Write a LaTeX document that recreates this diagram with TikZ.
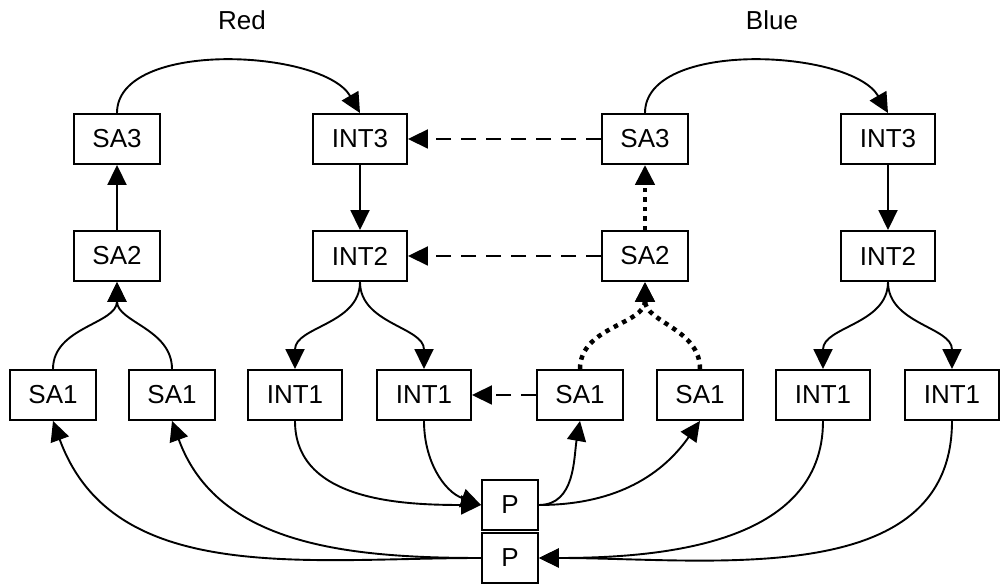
\documentclass[tikz,border=0pt]{standalone}
\usepackage{fontspec}
\setmainfont{Liberation Sans}
\usetikzlibrary{arrows.meta}
\begin{document}
\begin{tikzpicture}[x=1pt,y=1pt,
  every node/.style={font=\fontsize{26}{30}\selectfont},
  box/.style={draw, line width=1.9pt, minimum height=50pt, inner sep=0pt, minimum width=86pt},
  ibox/.style={box, minimum width=94pt},
  pbox/.style={box, minimum width=56pt},
  conn/.style={line width=1.9pt, -{Triangle[length=20pt,width=19pt]}},
  dashconn/.style={conn, dash pattern=on 15pt off 10pt},
  dotconn/.style={conn, line width=4.5pt, dash pattern=on 4.5pt off 5pt}
]
\useasboundingbox (0,0) rectangle (1002,585);

% titles
\node (tred) at (242,565) {Red};
\node (tblue) at (772,565) {Blue};

% red side
\node[box]  (SA3r)  at (117,446) {SA3};
\node[box]  (SA2r)  at (117,329) {SA2};
\node[box]  (SA1ra) at (53,190)  {SA1};
\node[box]  (SA1rb) at (172,190) {SA1};
\node[ibox] (INT3r) at (360,446) {INT3};
\node[ibox] (INT2r) at (360,329) {INT2};
\node[ibox] (INT1ra) at (295,190) {INT1};
\node[ibox] (INT1rb) at (424,190) {INT1};

% blue side
\node[box]  (SA3b)  at (645,446) {SA3};
\node[box]  (SA2b)  at (645,329) {SA2};
\node[box]  (SA1ba) at (580,190) {SA1};
\node[box]  (SA1bb) at (700,190) {SA1};
\node[ibox] (INT3b) at (888,446) {INT3};
\node[ibox] (INT2b) at (888,329) {INT2};
\node[ibox] (INT1ba) at (823,190) {INT1};
\node[ibox] (INT1bb) at (952,190) {INT1};

% P boxes
\node[pbox] (P1) at (510,80) {P};
\node[pbox] (P2) at (510,27) {P};

% red edges
\draw[conn] (SA1ra.north) to[out=90,in=-90] (SA2r.south);
\draw[conn] (SA1rb.north) to[out=90,in=-90] (SA2r.south);
\draw[conn] (SA2r) -- (SA3r);
\draw[conn] (SA3r.north) to[out=90,in=120,looseness=0.78] (INT3r.north);
\draw[conn] (INT3r) -- (INT2r);
\draw[conn] (INT2r.south) to[out=-90,in=90] (INT1ra.north);
\draw[conn] (INT2r.south) to[out=-90,in=90] (INT1rb.north);

% blue edges
\draw[dotconn] (SA1ba.north) to[out=90,in=-90] (SA2b.south);
\draw[dotconn] (SA1bb.north) to[out=90,in=-90] (SA2b.south);
\draw[dotconn] (SA2b) -- (SA3b);
\draw[conn] (SA3b.north) to[out=90,in=120,looseness=0.78] (INT3b.north);
\draw[conn] (INT3b) -- (INT2b);
\draw[conn] (INT2b.south) to[out=-90,in=90] (INT1ba.north);
\draw[conn] (INT2b.south) to[out=-90,in=90] (INT1bb.north);

% dashed cross edges
\draw[dashconn] (SA3b) -- (INT3r);
\draw[dashconn] (SA2b) -- (INT2r);
\draw[dashconn] (SA1ba) -- (INT1rb);

% P edges
\draw[conn] (INT1ra.south) to[out=-90,in=180] (P1.west);
\draw[conn] (INT1rb.south) to[out=-90,in=160] (P1.west);
\draw[conn] (P1.east) to[out=0,in=-100] (SA1ba.south);
\draw[conn] (P1.east) to[out=0,in=-125] (SA1bb.south);
\draw[conn] (P2.west) to[out=180,in=-70] (SA1ra.south);
\draw[conn] (P2.west) to[out=180,in=-70] (SA1rb.south);
\draw[conn] (INT1ba.south) to[out=-90,in=0] (P2.east);
\draw[conn] (INT1bb.south) to[out=-90,in=0] (P2.east);
\end{tikzpicture}
\end{document}
